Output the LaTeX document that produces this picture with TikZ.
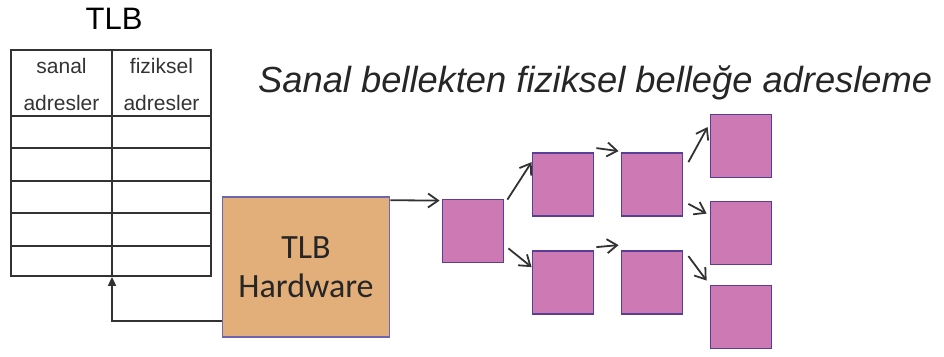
\documentclass[tikz,border=0pt]{standalone}
\usepackage{fontspec}
\setmainfont{Liberation Sans}
\newfontfamily\calfont{Carlito}
\usetikzlibrary{arrows.meta}
\definecolor{pinkfill}{RGB}{205,122,180}
\definecolor{pinkedge}{RGB}{88,62,150}
\definecolor{tanfill}{RGB}{226,174,121}
\definecolor{tanedge}{RGB}{110,100,175}
\definecolor{inkgray}{RGB}{50,50,50}
\tikzset{
  pbox/.style={draw=pinkedge, line width=1.8pt, fill=pinkfill, minimum width=61pt, minimum height=63pt, inner sep=0pt},
  hwbox/.style={draw=tanedge, line width=1.6pt, fill=tanfill, minimum width=167pt, minimum height=140pt, inner sep=0pt,
    align=center, font=\calfont\fontsize{34}{39}\selectfont, text=black!85},
  flow/.style={draw=inkgray, line width=1.8pt, -{Straight Barb[length=10pt,width=14pt,line width=1.8pt]}},
  grid/.style={draw=inkgray, line width=1.8pt},
  cell/.style={anchor=base, inner sep=0pt, font=\fontsize{21}{24}\selectfont, text=black!80},
}
\begin{document}
\begin{tikzpicture}[x=1pt, y=-1pt]
\useasboundingbox (0,0) rectangle (944,356);

% TLB table
\node[anchor=base, inner sep=0pt, font=\fontsize{31}{34}\selectfont] (tlbtitle) at (114,29) {TLB};
\node[grid, minimum width=200pt, minimum height=226pt, inner sep=0pt] (tlb) at (111,163) {};
\draw[grid] (112,50) -- (112,276);
\foreach \yy in {116,148,181,213,246} \draw[grid] (11,\yy) -- (211,\yy);
\node[cell] (va1) at (61.5,73) {sanal};
\node[cell] (va2) at (61.5,110) {adresler};
\node[cell] (pa1) at (161.5,73) {fiziksel};
\node[cell] (pa2) at (161.5,110) {adresler};

% heading
\node[anchor=base west, inner sep=0pt, font=\itshape\fontsize{36.3}{40}\selectfont, text=black!85] (head) at (258,92)
  {Sanal bellekten fiziksel belleğe adresleme};

% TLB hardware
\node[hwbox] (hw) at (306,267) {TLB\\Hardware};

% page table tree
\node[pbox] (b1) at (473,231) {};
\node[pbox] (b2) at (563,184.5) {};
\node[pbox] (b3) at (563,282.5) {};
\node[pbox] (b4) at (652,184.5) {};
\node[pbox] (b5) at (652,282.5) {};
\node[pbox] (b6) at (741,146) {};
\node[pbox] (b7) at (741,233) {};
\node[pbox] (b8) at (741,317) {};

% connectors
\draw[grid, -{Triangle[length=9pt,width=8pt]}] ([shift={(0,-17)}]hw.south west) -| ([xshift=1pt]tlb.south);
\draw[flow] ([shift={(0,4)}]hw.north east) -- ([shift={(-2,2)}]b1.north west);
\draw[flow] ([shift={(3,1)}]b1.north east) -- ([shift={(0,10)}]b2.north west);
\draw[flow] ([shift={(4,-15)}]b1.south east) -- ([shift={(0,17)}]b3.north west);
\draw[flow] ([shift={(2,-4)}]b2.north east) -- ([shift={(-2,-1)}]b4.north west);
\draw[flow] ([shift={(2,-3)}]b3.north east) -- ([shift={(-2,-5)}]b5.north west);
\draw[flow] ([shift={(5,10)}]b4.north east) -- ([shift={(-2,-19)}]b6.west);
\draw[flow] ([shift={(5,-13)}]b4.south east) -- ([shift={(-3,13)}]b7.north west);
\draw[flow] ([shift={(5,6)}]b5.north east) -- ([shift={(-3,-4)}]b8.north west);
\end{tikzpicture}
\end{document}
